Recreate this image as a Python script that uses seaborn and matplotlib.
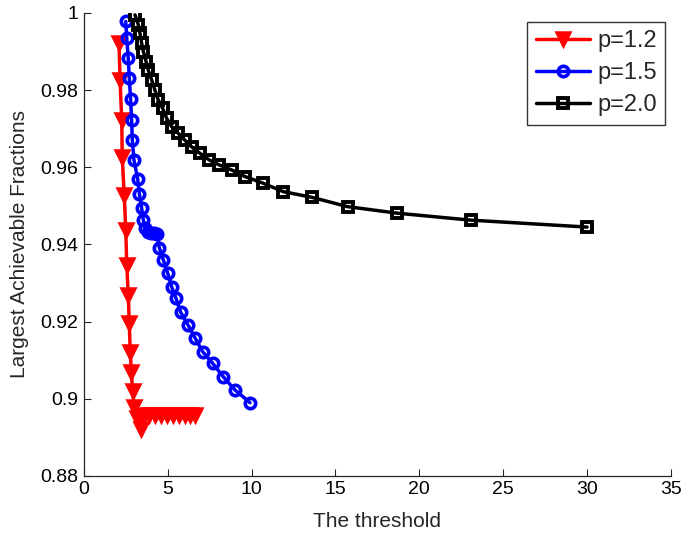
import matplotlib
matplotlib.use("Agg")
import matplotlib.pyplot as plt
import seaborn as sns
import pandas as pd

# data
x_p12 = [2.09, 2.15, 2.25, 2.28, 2.40, 2.49, 2.55, 2.64, 2.70, 2.76, 2.82, 2.90, 3.00, 3.14, 3.38,
         3.55, 3.90, 4.25, 4.60, 4.95, 5.30, 5.65, 6.00, 6.35, 6.65]
y_p12 = [0.9922, 0.9826, 0.9723, 0.9627, 0.9528, 0.9438, 0.9347, 0.9269, 0.9196, 0.9121, 0.9069,
         0.9020, 0.8978, 0.8950, 0.8922,
         0.8957, 0.8957, 0.8957, 0.8957, 0.8957, 0.8957, 0.8957, 0.8957, 0.8957, 0.8957]

x_p15 = [2.49, 2.55, 2.64, 2.70, 2.78, 2.84, 2.88, 2.98, 3.20, 3.31, 3.44, 3.54, 3.64,
         3.80, 4.00, 4.20, 4.35, 4.49, 4.73, 4.99, 5.23, 5.49, 5.77, 6.22, 6.62, 7.08,
         7.67, 8.31, 9.00, 9.90]
y_p15 = [0.9978, 0.9934, 0.9883, 0.9831, 0.9776, 0.9723, 0.9671, 0.9619, 0.9570, 0.9530,
         0.9494, 0.9463, 0.9442, 0.9432, 0.9430, 0.9430, 0.9428, 0.9392, 0.9360, 0.9326,
         0.9290, 0.9260, 0.9224, 0.9190, 0.9158, 0.9122, 0.9092, 0.9057, 0.9023, 0.8990]

x_p20 = [3.04, 3.24, 3.34, 3.44, 3.54, 3.70, 3.83, 4.04, 4.23, 4.43, 4.69, 4.93, 5.23, 5.62,
         6.02, 6.42, 6.92, 7.47, 8.07, 8.81, 9.60, 10.66, 11.88, 13.60, 15.72, 18.68, 23.06, 30.01]
y_p20 = [0.9995, 0.9969, 0.9947, 0.9921, 0.9900, 0.9874, 0.9852, 0.9826, 0.9800, 0.9774,
         0.9753, 0.9727, 0.9705, 0.9688, 0.9670, 0.9653, 0.9636, 0.9619, 0.9606, 0.9593,
         0.9576, 0.9559, 0.9537, 0.9522, 0.9498, 0.9481, 0.9463, 0.9445]

labels = ["p=1.2", "p=1.5", "p=2.0"]
xticks = [0, 5, 10, 15, 20, 25, 30, 35]
yticks = [0.88, 0.90, 0.92, 0.94, 0.96, 0.98, 1.00]
ytick_labels = ["0.88", "0.9", "0.92", "0.94", "0.96", "0.98", "1"]

sns.set_style("white")
plt.rcParams['font.family'] = ['Liberation Sans', 'DejaVu Sans']

fig = plt.figure(figsize=(6.83, 5.39), dpi=100)
ax = fig.add_axes([0.123, 0.117, 0.859, 0.859])

styles = [
    dict(color="#ff0000", marker="v", markersize=10, markerfacecolor="#ff0000",
         markeredgecolor="#ff0000", markeredgewidth=1.8),
    dict(color="#0000ff", marker="o", markersize=7.5, markerfacecolor="none",
         markeredgecolor="#0000ff", markeredgewidth=2.6),
    dict(color="#000000", marker="s", markersize=7.5, markerfacecolor="none",
         markeredgecolor="#000000", markeredgewidth=2.8),
]
series = [(x_p12, y_p12), (x_p15, y_p15), (x_p20, y_p20)]
for (xs, ys), lab, st in zip(series, labels, styles):
    df = pd.DataFrame({"x": xs, "y": ys})
    sns.lineplot(data=df, x="x", y="y", sort=False, estimator=None, ax=ax,
                 label=lab, linewidth=2.5, **st)

ax.set_xlim(0, 35)
ax.set_ylim(0.88, 1.0)
ax.set_xticks(xticks)
ax.set_xticklabels([str(t) for t in xticks])
ax.set_yticks(yticks)
ax.set_yticklabels(ytick_labels)
ax.tick_params(direction="in", length=5, width=0.8, labelsize=14, colors="#262626",
               labelcolor="black", top=False, right=False, left=True, bottom=True, pad=4)
for s in ["top", "right"]:
    ax.spines[s].set_visible(False)
for s in ["left", "bottom"]:
    ax.spines[s].set_color("#262626")
    ax.spines[s].set_linewidth(0.9)

ax.set_xlabel("The threshold", fontsize=15, labelpad=10)
ax.set_ylabel("Largest Achievable Fractions", fontsize=15, labelpad=8)

leg = ax.legend(loc="upper right", bbox_to_anchor=(0.99, 0.98), fontsize=17,
                frameon=True, fancybox=False, edgecolor="black", handlelength=2.3,
                handletextpad=0.3, borderpad=0.35, labelspacing=0.42, borderaxespad=0.0)
leg.get_frame().set_linewidth(1.0)

fig.savefig("out.png", dpi=100)
